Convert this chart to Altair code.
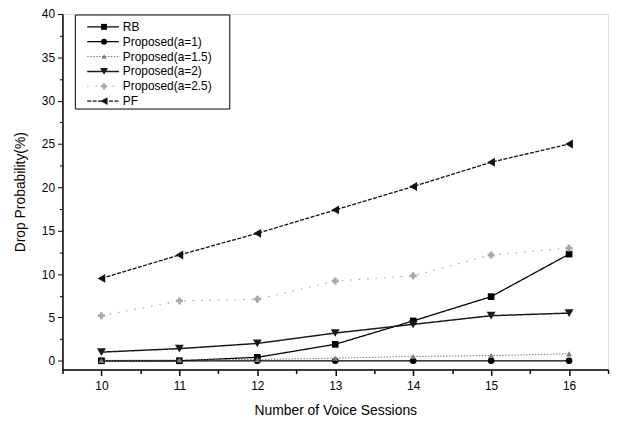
import altair as alt
import pandas as pd

sessions = [10, 11, 12, 13, 14, 15, 16]
series_names = ["RB", "Proposed(a=1)", "Proposed(a=1.5)", "Proposed(a=2)", "Proposed(a=2.5)", "PF"]
rb = [0.0, 0.0, 0.4, 1.9, 4.6, 7.4, 12.3]
prop_a1 = [0.0, 0.0, 0.0, 0.0, 0.0, 0.0, 0.0]
prop_a15 = [0.05, 0.1, 0.15, 0.3, 0.5, 0.6, 0.8]
prop_a2 = [1.0, 1.4, 2.0, 3.2, 4.2, 5.2, 5.5]
prop_a25 = [5.2, 6.9, 7.1, 9.2, 9.8, 12.2, 13.0]
pf = [9.5, 12.2, 14.7, 17.4, 20.1, 22.9, 25.0]
values = [rb, prop_a1, prop_a15, prop_a2, prop_a25, pf]

# style per series: color, dash, shape, size, stroke width
styles = {
    "RB": ("#000000", [1, 0], "square", 45, 1.3),
    "Proposed(a=1)": ("#000000", [1, 0], "circle", 45, 1.3),
    "Proposed(a=1.5)": ("#7a7a7a", [1.5, 1.5], "triangle-up", 35, 1.0),
    "Proposed(a=2)": ("#1a1a1a", [1, 0], "triangle-down", 80, 1.5),
    "Proposed(a=2.5)": ("#a8a8a8", [1.5, 7], "cross", 50, 1.2),
    "PF": ("#111111", [4, 1.5], "triangle-left", 80, 1.3),
}

rows = []
for name, vals in zip(series_names, values):
    for s, v in zip(sessions, vals):
        rows.append({"series": name, "sessions": s, "value": v})
df = pd.DataFrame(rows)

FONT = "Liberation Sans"

x_ticks = [9.5 + 0.5 * i for i in range(15)]
y_ticks = [2.5 * i for i in range(17)]

x_enc = alt.X(
    "sessions:Q",
    scale=alt.Scale(domain=[9.5, 16.5], nice=False, zero=False),
    axis=alt.Axis(
        title="Number of Voice Sessions",
        values=x_ticks,
        labelExpr="datum.value % 1 === 0 ? format(datum.value, 'd') : ''",
        tickSize={"expr": "datum.value % 1 === 0 ? 6 : 4"},
        grid=False,
        labelFontSize=12,
        titleFontSize=14,
        titleFontWeight="normal",
        labelPadding=5,
        titlePadding=12,
        domainColor="#000",
        tickColor="#000",
        labelColor="#000",
        titleColor="#000",
        domainWidth=1.5,
        tickWidth=1.5,
    ),
)
y_enc = alt.Y(
    "value:Q",
    scale=alt.Scale(domain=[-1, 40], nice=False, zero=False),
    axis=alt.Axis(
        title="Drop Probability(%)",
        values=y_ticks,
        labelExpr="datum.value % 5 === 0 ? format(datum.value, 'd') : ''",
        tickSize={"expr": "datum.value % 5 === 0 ? 5 : 3"},
        grid=False,
        labelFontSize=12,
        titleFontSize=14,
        titleFontWeight="normal",
        labelPadding=3,
        titlePadding=14,
        domainColor="#000",
        tickColor="#000",
        labelColor="#000",
        titleColor="#000",
        domainWidth=1.5,
        tickWidth=1,
    ),
)

layers = []
for name in series_names:
    color, dash, shape, size, sw = styles[name]
    sub = df[df["series"] == name]
    base = alt.Chart(sub)
    layers.append(
        base.mark_line(color=color, strokeDash=dash, strokeWidth=sw).encode(x=x_enc, y=y_enc)
    )
    layers.append(
        base.mark_point(shape=shape, size=size, filled=True, color=color, opacity=1).encode(
            x=x_enc, y=y_enc
        )
    )

# legend (drawn manually)
one = pd.DataFrame({"k": [0]})
legend_layers = [
    alt.Chart(one).mark_rect(fill="white", stroke="#000", strokeWidth=1).encode(
        x=alt.value(13), x2=alt.value(169), y=alt.value(1), y2=alt.value(96)
    )
]
for i, name in enumerate(series_names):
    color, dash, shape, size, sw = styles[name]
    yy = 13 + 15 * i
    legend_layers.append(
        alt.Chart(one).mark_rule(color=color, strokeDash=dash, strokeWidth=sw).encode(
            x=alt.value(25), x2=alt.value(57), y=alt.value(yy)
        )
    )
    legend_layers.append(
        alt.Chart(one).mark_point(shape=shape, size=size * 0.8, filled=True, color=color, opacity=1).encode(
            x=alt.value(42), y=alt.value(yy)
        )
    )
    legend_layers.append(
        alt.Chart(one).mark_text(align="left", baseline="middle", fontSize=12, font=FONT, color="#000").encode(
            x=alt.value(61), y=alt.value(yy), text=alt.value(name)
        )
    )

chart = (
    alt.layer(*layers, *legend_layers)
    .properties(
        width=551,
        height=359,
        autosize=alt.AutoSizeParams(type="none"),
        padding={"left": 55, "top": 4, "right": 4, "bottom": 48},
    )
    .configure_view(stroke=None)
    .configure_axis(labelFont=FONT, titleFont=FONT)
    .configure(background="white")
)

chart.save("out.html", embed_options={"renderer": "svg", "actions": False})
